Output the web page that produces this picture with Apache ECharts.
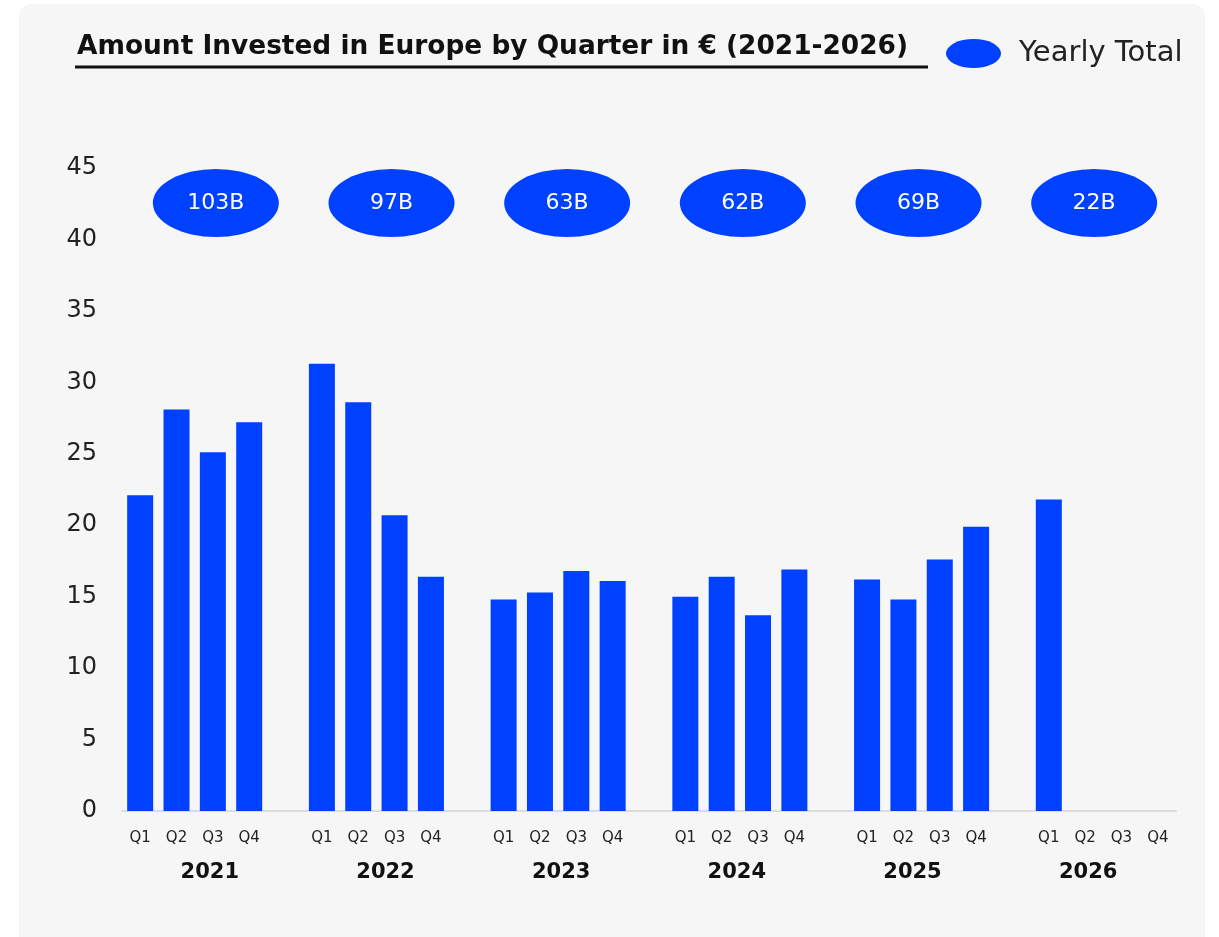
<!DOCTYPE html>
<html>
<head>
<meta charset="utf-8">
<script src="https://cdn.jsdelivr.net/npm/echarts@6/dist/echarts.min.js"></script>
<style>
  html, body { margin: 0; padding: 0; background: #ffffff; }
  #chart { width: 1219px; height: 937px; }
</style>
</head>
<body>
<div id="chart"></div>
<script>
const years = ['2021', '2022', '2023', '2024', '2025', '2026']
const quarters = ['Q1', 'Q2', 'Q3', 'Q4']

// quarterly amounts in € billions, one array per year
const q2021 = [22.1, 28.1, 25.1, 27.2]
const q2022 = [31.3, 28.6, 20.7, 16.4]
const q2023 = [14.8, 15.3, 16.8, 16.1]
const q2024 = [15.0, 16.4, 13.7, 16.9]
const q2025 = [16.2, 14.8, 17.6, 19.9]
const q2026 = [21.8, null, null, null]

const yearlyTotals = [103, 97, 63, 62, 69, 22]

const BLUE = '#0040ff'
const FONT = "'DejaVu Sans', sans-serif"

// category axis: 4 quarters per year and one empty slot between years
const yearValues = [q2021, q2022, q2023, q2024, q2025, q2026]
const categories = []
const barData = []
years.forEach((y, i) => {
  quarters.forEach((q, j) => {
    categories.push(q)
    const v = yearValues[i][j]
    barData.push(v == null ? '-' : v)
  })
  if (i < years.length - 1) {
    categories.push('')
    barData.push('-')
  }
})

const ellipse = 'path://M0,50 A50,50 0 1,1 100,50 A50,50 0 1,1 0,50 Z'

const chart = echarts.init(document.getElementById('chart'))

chart.setOption({
  animation: false,
  textStyle: { fontFamily: FONT },
  graphic: [
    {
      type: 'rect',
      shape: { x: 19, y: 4, width: 1186, height: 960, r: 12 },
      style: { fill: '#f6f6f6' },
      z: -10
    },
    {
      type: 'text',
      left: 77,
      top: 34,
      style: {
        text: 'Amount Invested in Europe by Quarter in € (2021-2026)',
        fontFamily: FONT,
        fontWeight: 'bold',
        fontSize: 26.4,
        fill: '#111'
      }
    },
    {
      type: 'line',
      shape: { x1: 75, y1: 67, x2: 928, y2: 67 },
      style: { stroke: '#111', lineWidth: 3 }
    }
  ],
  legend: {
    left: 941,
    top: 34,
    icon: ellipse,
    symbolKeepAspect: false,
    itemWidth: 55,
    itemHeight: 29,
    data: ['Yearly Total'],
    textStyle: {
      fontFamily: FONT,
      fontSize: 29,
      color: '#222',
      padding: [0, 0, 0, 13]
    }
  },
  grid: {
    left: 122,
    right: 43,
    top: 168,
    bottom: 126,
    containLabel: false
  },
  xAxis: [
    {
      type: 'category',
      data: categories,
      axisLine: { lineStyle: { color: '#dcdcdc', width: 2 } },
      axisTick: { show: false },
      axisLabel: {
        interval: 0,
        margin: 20,
        fontSize: 15,
        color: '#222',
        fontFamily: FONT
      }
    },
    {
      type: 'category',
      data: years,
      position: 'bottom',
      axisLine: { show: false },
      axisTick: { show: false },
      axisLabel: {
        interval: 0,
        margin: 51,
        fontSize: 21,
        fontWeight: 'bold',
        color: '#111',
        fontFamily: FONT
      }
    }
  ],
  yAxis: {
    type: 'value',
    min: 0,
    max: 45,
    interval: 5,
    splitLine: { show: false },
    axisLine: { show: false },
    axisTick: { show: false },
    axisLabel: {
      margin: 25,
      fontSize: 24,
      color: '#222',
      fontFamily: FONT
    }
  },
  series: [
    {
      type: 'bar',
      name: 'Quarterly',
      data: barData,
      barWidth: 26,
      itemStyle: { color: BLUE }
    },
    {
      type: 'scatter',
      name: 'Yearly Total',
      xAxisIndex: 1,
      data: yearlyTotals.map((t, i) => [years[i], 42.55, t]),
      symbol: ellipse,
      symbolKeepAspect: false,
      symbolSize: [126, 68],
      symbolOffset: [6, 0],
      itemStyle: { color: BLUE, opacity: 1 },
      label: {
        show: true,
        position: 'inside',
        formatter: p => p.value[2] + 'B',
        color: '#fff',
        fontSize: 22,
        fontFamily: FONT
      },
      clip: false
    }
  ]
})
</script>
</body>
</html>
